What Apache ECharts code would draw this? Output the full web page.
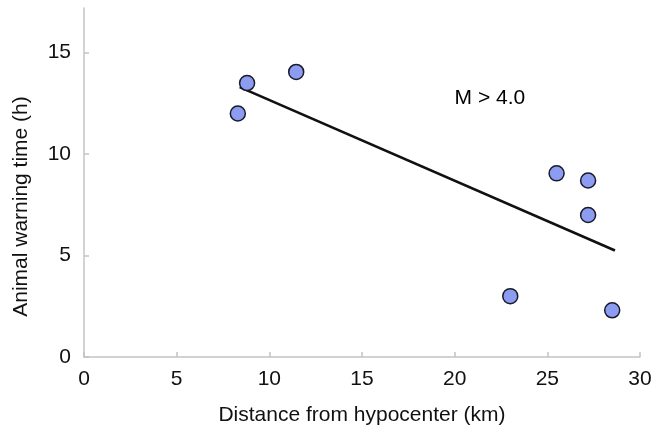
<!DOCTYPE html>
<html>
<head>
<meta charset="utf-8">
<script src="https://cdn.jsdelivr.net/npm/echarts@6/dist/echarts.min.js"></script>
<style>html,body{margin:0;padding:0;background:#fff}#c{width:665px;height:431px}</style>
</head>
<body>
<div id="c"></div>
<script>
const distanceKm = [8.8, 11.45, 8.3, 25.5, 27.2, 27.2, 23.0, 28.5];
const warningH   = [13.5, 14.05, 12.0, 9.05, 8.7, 7.0, 3.0, 2.3];
const fitX = [8.4, 28.65];
const fitY = [13.3, 5.25];
const xTicks = [0, 5, 10, 15, 20, 25, 30];
const yTicks = [0, 5, 10, 15];
const annotationText = 'M > 4.0';
const annotationPos = [21.9, 12.75];

const chart = echarts.init(document.getElementById('c'), null, {renderer: 'canvas'});
const font = '"Liberation Sans", Arial, sans-serif';
const axisColor = '#c4c4c4';
chart.setOption({
  animation: false,
  grid: {left: 84, right: 25, top: 8, bottom: 71, containLabel: false},
  xAxis: {
    type: 'value', min: 0, max: 30, interval: 5,
    name: 'Distance from hypocenter (km)', nameLocation: 'middle', nameGap: 48,
    nameTextStyle: {fontFamily: font, fontSize: 21, color: '#111'},
    axisLine: {show: true, lineStyle: {color: axisColor, width: 1.5}},
    axisTick: {show: true, inside: true, length: 5, lineStyle: {color: axisColor, width: 1.5}, customValues: xTicks},
    axisLabel: {fontFamily: font, fontSize: 21, color: '#111', margin: 12, customValues: xTicks},
    splitLine: {show: false}
  },
  yAxis: {
    type: 'value', min: 0, max: 17.2,
    name: 'Animal warning time (h)', nameLocation: 'middle', nameGap: 52, nameRotate: 90,
    nameTextStyle: {fontFamily: font, fontSize: 21, color: '#111', padding: [0, 48, 0, 0]},
    axisLine: {show: true, lineStyle: {color: axisColor, width: 1.5}},
    axisTick: {show: true, inside: true, length: 5, lineStyle: {color: axisColor, width: 1.5}, customValues: yTicks},
    axisLabel: {fontFamily: font, fontSize: 21, color: '#111', margin: 13, customValues: yTicks},
    splitLine: {show: false}
  },
  series: [
    {
      type: 'line',
      data: fitX.map((x, i) => [x, fitY[i]]),
      symbol: 'none',
      lineStyle: {color: '#111', width: 2.6},
      z: 2
    },
    {
      type: 'scatter',
      data: distanceKm.map((x, i) => [x, warningH[i]]),
      symbolSize: 15,
      itemStyle: {color: '#8c9cf0', borderColor: '#1a1a2a', borderWidth: 1.5, opacity: 1},
      z: 3
    },
    {
      type: 'scatter',
      data: [annotationPos],
      symbolSize: 0,
      silent: true,
      itemStyle: {opacity: 1},
      label: {show: true, position: 'inside', formatter: annotationText, fontFamily: font, fontSize: 21, color: '#000', opacity: 1},
      z: 4
    }
  ]
});
</script>
</body>
</html>
